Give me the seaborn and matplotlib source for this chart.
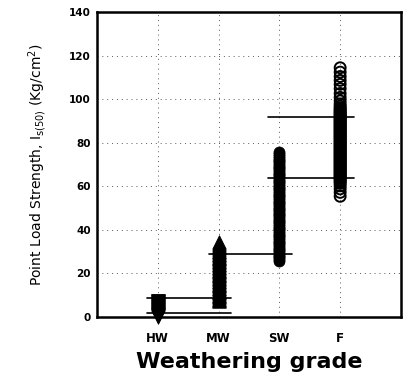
import matplotlib
matplotlib.use("Agg")
import matplotlib.pyplot as plt
import seaborn as sns
import pandas as pd

# ---- data ----
grades = ["HW", "MW", "SW", "F"]
grade_pos = [1, 2, 3, 4]

hw_values = [0.2, 0.5, 0.8, 1.0, 1.3, 1.6, 1.9, 2.2, 2.5, 2.8, 3.1, 3.4, 3.7,
             4.0, 4.3, 4.6, 4.9, 5.2, 5.5, 5.8, 6.1, 6.4, 6.7, 7.0, 7.3, 7.5]
mw_values = [7.3, 7.8, 8.4, 9.0, 9.6, 10.2, 10.8, 11.5, 12.1, 12.8, 13.4, 14.0,
             14.7, 15.3, 16.0, 16.6, 17.3, 17.9, 18.6, 19.2, 19.9, 20.5, 21.2,
             21.8, 22.5, 23.1, 23.8, 24.4, 25.1, 25.7, 26.4, 27.0, 27.7, 28.3,
             29.0, 29.7, 30.4, 31.2, 32.0, 32.8, 33.5, 34.3]
sw_values = [25.8, 26.6, 27.4, 28.2, 29.0, 29.8, 30.6, 31.4, 32.2, 33.0, 33.8,
             34.6, 35.4, 36.2, 37.0, 37.8, 38.6, 39.4, 40.2, 41.0, 41.8, 42.6,
             43.4, 44.2, 45.0, 45.8, 46.6, 47.4, 48.2, 49.0, 49.8, 50.6, 51.4,
             52.2, 53.0, 53.8, 54.6, 55.4, 56.2, 57.0, 57.8, 58.6, 59.4, 60.2,
             61.0, 61.8, 62.6, 63.4, 64.2, 65.0, 65.8, 66.6, 67.4, 68.2, 69.0,
             69.8, 70.6, 71.4, 72.2, 73.0, 73.8, 74.6, 75.6]
f_values = [55.4, 57.2, 58.8, 60.2, 61.3, 62.0, 62.6, 63.2, 63.7, 64.2, 64.7,
            65.2, 65.7, 66.2, 66.7, 67.2, 67.7, 68.2, 68.7, 69.2, 69.7, 70.2,
            70.7, 71.2, 71.7, 72.2, 72.7, 73.2, 73.7, 74.2, 74.7, 75.2, 75.7,
            76.2, 76.7, 77.2, 77.7, 78.2, 78.7, 79.2, 79.7, 80.2, 80.7, 81.2,
            81.7, 82.2, 82.7, 83.2, 83.7, 84.2, 84.7, 85.2, 85.7, 86.2, 86.7,
            87.2, 87.7, 88.2, 88.7, 89.2, 89.7, 90.2, 90.7, 91.2, 91.7, 92.2,
            92.7, 93.2, 93.7, 94.2, 94.8, 95.4, 96.0, 96.8, 97.8, 99.2, 100.8,
            102.6, 104.8, 106.8, 108.6, 110.4, 112.4, 114.4]

# horizontal reference lines: level, start x, end x
line_levels = [8.9, 1.7, 28.9, 63.8, 91.7]
line_starts = [0.82, 0.82, 1.85, 2.82, 2.82]
line_ends = [2.2, 2.2, 3.21, 4.23, 4.23]

y_ticks = [0, 20, 40, 60, 80, 100, 120, 140]

# ---- figure ----
sns.set_theme(style="white")
plt.rcParams["font.family"] = ["DejaVu Sans"]
plt.rcParams["text.color"] = "black"

fig = plt.figure(figsize=(4.05, 3.81), dpi=100)
ax = fig.add_axes([0.2395, 0.168, 0.7505, 0.8005])

def frame(vals, pos):
    return pd.DataFrame({"x": [pos] * len(vals), "y": vals})

kw = dict(ax=ax, x="x", y="y", clip_on=False, zorder=3, legend=False)
sns.scatterplot(data=frame(hw_values, grade_pos[0]), marker="v", s=95,
                color="black", edgecolor="black", linewidth=0.6, **kw)
sns.scatterplot(data=frame(mw_values, grade_pos[1]), marker="^", s=95,
                color="black", edgecolor="black", linewidth=0.6, **kw)
sns.scatterplot(data=frame(sw_values, grade_pos[2]), marker="o", s=62,
                color="black", edgecolor="black", linewidth=0.6, **kw)
sns.scatterplot(data=frame(f_values, grade_pos[3]), marker="o", s=62,
                facecolor="none", edgecolor="black", linewidth=1.4, **kw)

for lv, x0, x1 in zip(line_levels, line_starts, line_ends):
    ax.plot([x0, x1], [lv, lv], color="black", lw=1.2, zorder=2)

ax.set_xlim(0, 5)
ax.set_ylim(0, 140)
ax.set_xticks(grade_pos)
ax.set_xticklabels(grades, fontsize=8.5, fontweight="bold", color="black")
ax.set_yticks(y_ticks)
ax.set_yticklabels([str(t) for t in y_ticks], fontsize=7.5, fontweight="bold",
                   color="black")
ax.tick_params(axis="y", direction="out", length=3, width=1, pad=1.5, colors="black")
ax.tick_params(axis="x", direction="out", length=3, width=1, pad=8, colors="black")
ax.grid(True, color="0.35", linestyle=(0, (1, 4)), linewidth=0.7)
for sp in ax.spines.values():
    sp.set_color("black")
    sp.set_linewidth(1.8)

ax.set_xlabel("Weathering grade", fontsize=16, fontweight="bold", labelpad=5,
              color="black")
ax.set_ylabel("Point Load Strength, I$_{\\mathregular{s(50)}}$ (Kg/cm$^{\\mathregular{2}}$)",
              fontsize=10, labelpad=14, color="black")

fig.savefig("out.png", dpi=100)
